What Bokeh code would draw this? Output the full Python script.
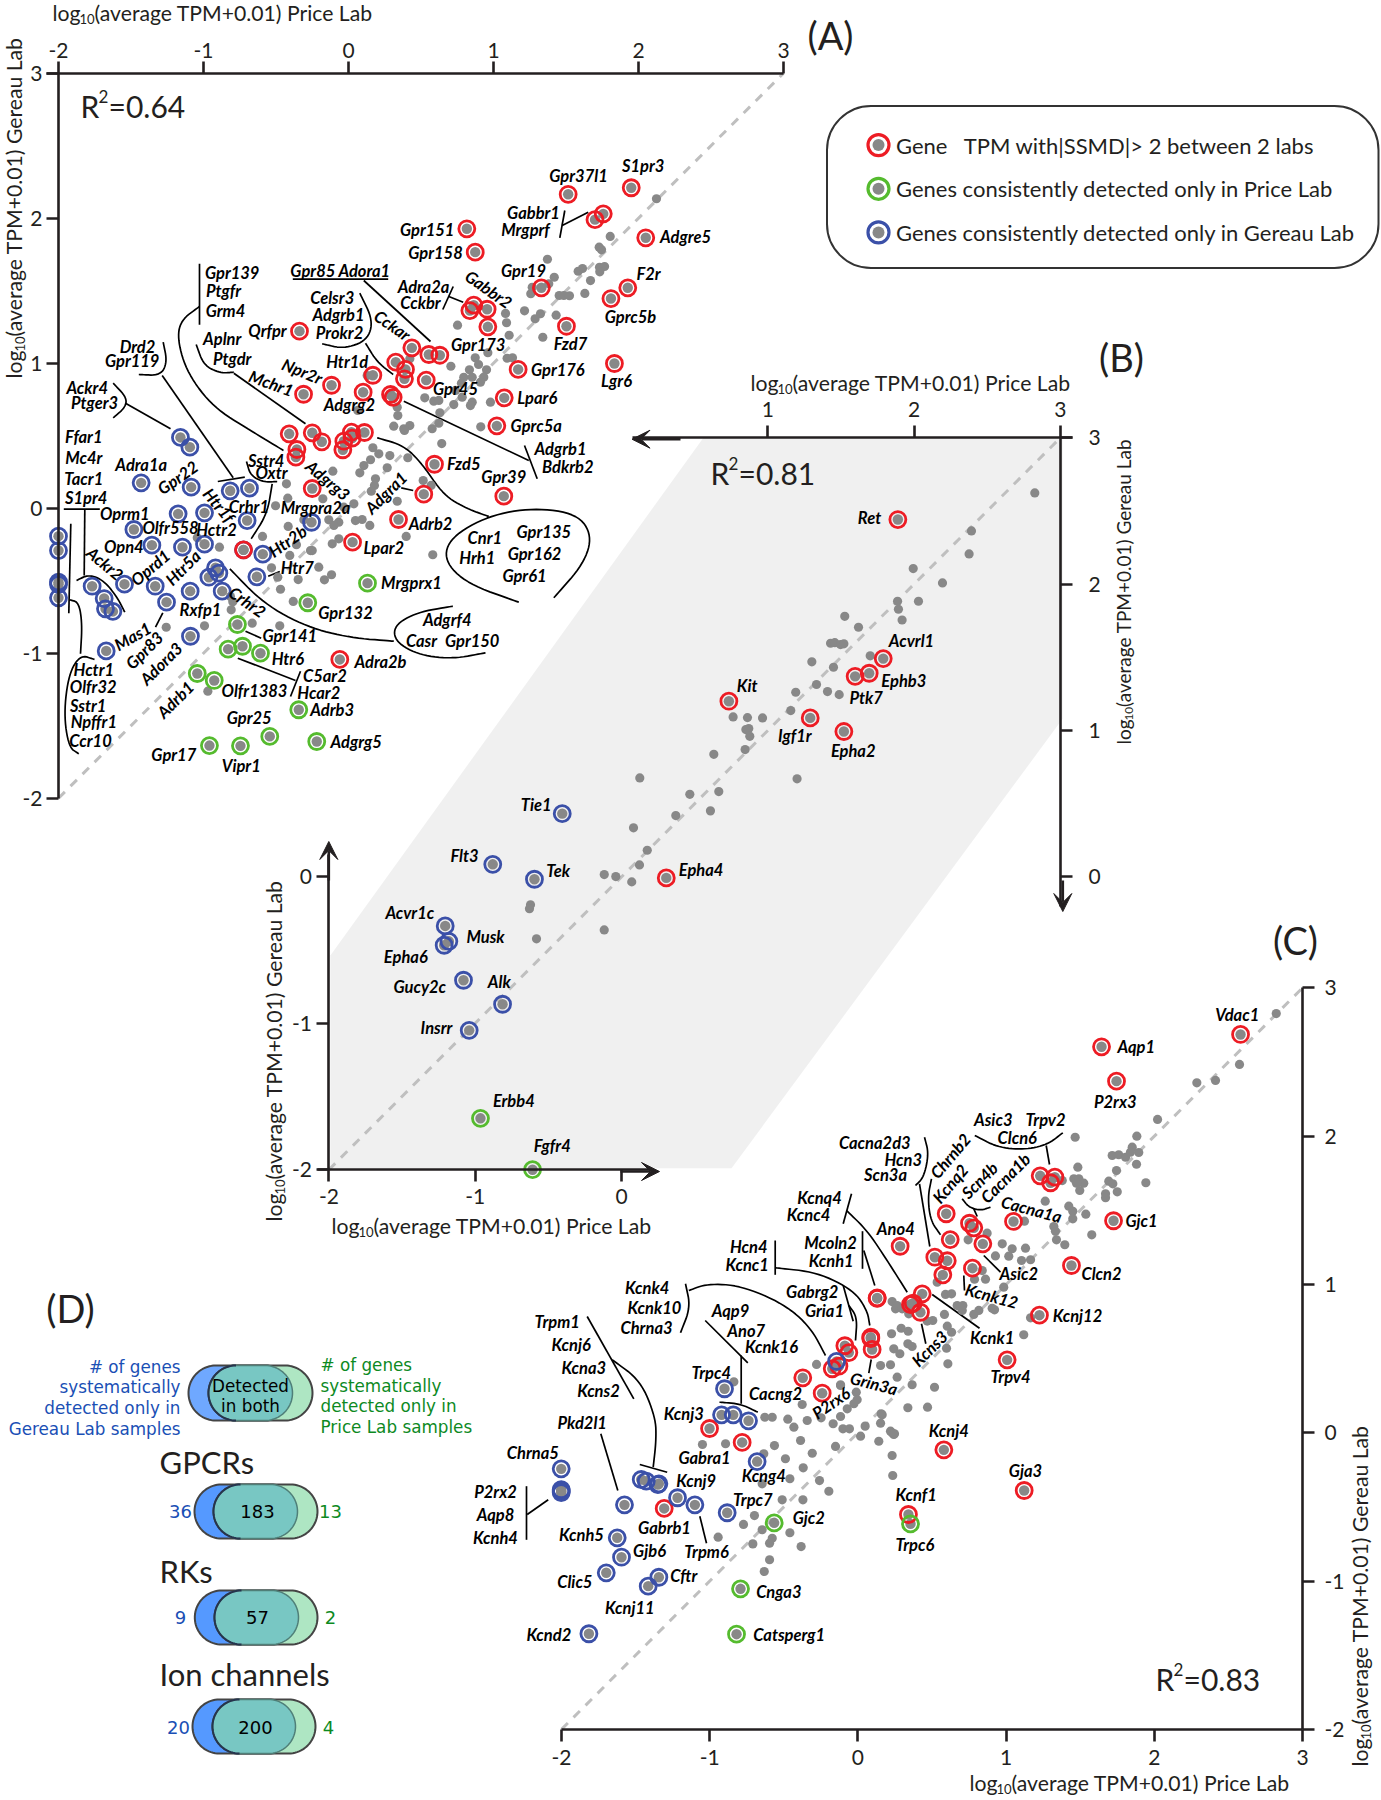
import numpy as np
from bokeh.plotting import figure
from bokeh.embed import file_html
from bokeh.resources import INLINE
from bokeh.core.properties import value
from bokeh.models import (Range1d, LinearAxis, FixedTicker, ColumnDataSource, Arrow, VeeHead)

# ---------- values (log10 TPM, Price Lab, Gereau Lab) ----------
a_gray = [(2.124,2.134),(1.805,1.874),(1.729,1.80),(1.745,1.782),(1.372,1.717),(1.614,1.653),(1.584,1.634),(1.731,1.662),
(1.766,1.667),(1.733,1.63),(1.419,1.593),(1.669,1.57),(1.267,1.524),(1.381,1.548),(1.257,1.479),(1.453,1.467),(1.485,1.467),
(1.524,1.465),(1.63,1.481),(1.214,1.361),(1.083,1.343),(1.324,1.341),(1.287,1.306),(1.432,1.331),(0.752,1.262),(1.09,1.279),
(1.108,1.193),(1.34,1.179),(0.961,1.072),(1.094,1.034),(1.131,1.037),(0.874,1.037),(0.897,0.991),(0.706,0.979),(0.834,0.954),
(0.952,0.954),(0.795,0.903),(0.853,0.903),(0.933,0.903),(0.779,0.862),(0.91,0.869),(0.738,0.812),(0.526,0.761),(0.588,0.738),
(0.623,0.743),(0.726,0.715),(0.784,0.766),(0.853,0.731),(0.841,0.708),(0.979,0.731),(0.63,0.658),(0.623,0.586),(0.577,0.548),
(0.423,0.57),(0.381,0.548),(0.912,0.561),(0.643,0.446),(0.409,0.348),(0.515,0.191),(0.57,0.157),(0.423,1.03),(0.129,0.915),
(0.336,0.697),(0.064,0.674),(0.34,0.639),(0.312,0.566),(0.386,0.536),(0.168,0.417),(0.209,0.375),(0.285,0.363),(0.152,0.334),
(0.106,0.294),(0.078,0.244),(0.267,0.279),(-0.108,0.255),(-0.428,0.168),(0.186,0.203),(0.179,0.157),(0.157,0.117),(-0.177,0.065),
(0.336,0.048),(-0.503,0.017),(-0.419,0.069),(0.037,0.03),(-0.032,0.007),(-0.308,-0.08),(-0.136,-0.08),(-0.067,-0.097),(-0.101,-0.119),
(0.048,-0.085),(0.094,-0.078),(0.147,-0.119),(0.398,-0.195),(-0.416,-0.126),(-0.593,-0.195),(-0.359,-0.252),(-0.262,-0.292),
(-0.112,-0.246),(-0.067,-0.211),(0.581,-0.321),(-0.89,-0.269),(-0.405,-0.326),(-0.531,-0.411),(-0.488,-0.476),(-0.347,-0.492),
(-0.205,-0.407),(-0.117,-0.459),(-0.166,-0.494),(-0.469,-0.559),(-0.381,-0.643),(-0.664,-0.793),(-0.474,-0.811),(-0.798,-0.646),
(-0.809,-0.701),(-0.993,-0.811),(-1.257,-0.821),(-0.97,-1.262),(-1.043,-0.204),(-0.25,-0.292),(-0.814,-0.609)]
a_red = [(1.95,2.21),(1.515,2.165),(1.757,2.03),(1.70,1.99),(2.05,1.865),(0.816,1.927),(0.874,1.766),(1.33,1.52),(1.926,1.52),
(1.81,1.446),(0.864,1.40),(0.837,1.363),(0.956,1.372),(0.961,1.251),(1.503,1.255),(1.834,0.998),(0.437,1.106),(0.554,1.06),(0.63,1.055),
(1.17,0.957),(0.536,0.883),(0.393,0.957),(0.386,0.892),(1.074,0.761),(1.023,0.568),(0.593,0.303),(1.071,0.083),(0.519,0.097),
(-0.338,1.221),(0.326,1.007),(0.168,0.917),(-0.117,0.848),(-0.31,0.786),(0.101,0.80),(0.29,0.784),(0.308,0.765),
(-0.409,0.513),(-0.25,0.52),(-0.184,0.458),(-0.356,0.405),(-0.363,0.352),(0.02,0.524),(0.11,0.522),(-0.032,0.462),(0.025,0.483),
(-0.039,0.403),(-0.25,0.136),(0.345,-0.078),(0.028,-0.234),(-0.724,-0.287),(-0.06,-1.043)]
a_blue = [(-2.0,-0.193),(-2.0,-0.292),(-2.0,-0.51),(-2.0,-0.525),(-2.0,-0.618),(-1.768,-0.538),(-1.685,-0.623),(-1.676,-0.694),
(-1.625,-0.712),(-1.545,-0.524),(-1.333,-0.538),(-1.255,-0.648),(-1.671,-0.984),(-1.09,-0.883),(-1.092,-0.572),(-1.48,-0.147),
(-1.356,-0.255),(-1.145,-0.269),(-0.993,-0.248),(-1.175,-0.039),(-0.993,-0.032),(-1.085,0.145),(-1.43,0.175),(-0.816,0.12),
(-0.683,0.138),(-0.699,-0.085),(-0.591,-0.317),(-0.632,-0.473),(-0.255,-0.097),(-1.159,0.488),(-1.094,0.421),(-0.917,-0.411),
(-0.894,-0.448),(-0.963,-0.476),(-0.871,-0.572),(-0.724,-0.287)]
a_green = [(-0.281,-0.652),(-0.766,-0.802),(-0.83,-0.972),(-0.731,-0.952),(-0.607,-1.0),(-1.043,-1.14),(-0.926,-1.188),(-0.343,-1.39),
(-0.543,-1.574),(-0.219,-1.609),(-0.959,-1.637),(-0.745,-1.639),(0.131,-0.517)]

b_gray = [(2.825,2.623),(2.392,2.363),(2.376,2.206),(1.994,2.106),(2.194,2.008),(2.03,1.883),(1.887,1.883),(1.893,1.828),(1.918,1.755),
(1.526,1.78),(1.62,1.705),(1.429,1.596),(1.458,1.6),(1.497,1.587),(1.52,1.592),(1.7,1.51),(1.301,1.469),(1.449,1.432),(1.333,1.314),
(1.191,1.261),(1.408,1.266),(1.488,1.245),(1.157,1.136),(0.763,1.093),(0.861,1.088),(0.964,1.086),(0.87,1.013),(0.85,1.006),(0.877,0.96),
(0.845,0.87),(0.631,0.837),(1.2,0.67),(0.125,0.676),(0.467,0.564),(0.665,0.583),(0.371,0.419),(0.608,0.451),(0.082,0.335),(0.176,0.182),
(0.123,0.082),(-0.118,0.016),(-0.039,0.002),(0.07,-0.034),(-0.118,-0.362),(-0.622,-0.191),(-0.629,-0.217),(-0.581,-0.423)]
b_red = [(1.889,2.441),(1.789,1.491),(1.693,1.391),(1.597,1.37),(0.734,1.2),(1.29,1.086),(1.52,0.993),(0.306,-0.007)]
b_blue = [(-0.405,0.432),(-0.88,0.086),(-0.595,-0.016),(-1.205,-0.335),(-1.18,-0.44),(-1.212,-0.467),(-1.08,-0.706),(-0.813,-0.87),(-1.041,-1.048)]
b_green = [(-0.964,-1.649),(-0.608,-2.0)]

c_gray = [(2.823,2.827),(2.575,2.484),(2.413,2.376),(2.287,2.36),(2.022,2.113),(1.882,2.0),(1.466,1.993),(1.851,1.926),(1.716,1.87),
(1.76,1.875),(1.806,1.858),(1.839,1.892),(1.895,1.89),(1.88,1.811),(1.484,1.791),(1.745,1.769),(1.457,1.713),(1.491,1.713),(1.524,1.683),
(1.475,1.683),(1.497,1.634),(1.693,1.697),(1.72,1.679),(1.943,1.686),(1.75,1.625),(1.671,1.612),(1.671,1.585),(1.379,1.701),(1.264,1.562),
(1.423,1.528),(1.45,1.494),(1.538,1.474),(1.45,1.443),(1.124,1.427),(1.322,1.391),(1.333,1.359),(1.34,1.301),(1.396,1.268),(1.578,1.335),
(0.872,1.346),(0.744,1.301),(0.974,1.274),(1.041,1.241),(1.131,1.245),(0.928,1.193),(1.018,1.191),(1.104,1.162),(1.165,1.167),(0.839,1.094),
(0.787,1.036),(0.861,1.036),(0.535,1.016),(0.984,0.982),(0.591,0.933),(0.632,0.937),(0.231,0.885),(0.265,0.858),(0.254,0.836),(0.299,0.836),
(0.343,0.802),(0.67,0.858),(0.708,0.858),(0.704,0.825),(0.816,0.825),(0.782,0.798),(0.906,0.84),(0.922,0.829),(0.584,0.798),(1.165,0.775),
(0.468,0.753),(0.505,0.757),(0.603,0.719),(0.632,0.678),(0.227,0.668),(0.292,0.705),(0.339,0.685),(0.337,0.6),(0.242,0.566),(0.283,0.533),
(0.366,0.582),(0.598,0.57),(1.119,0.661),(0.153,0.454),(0.22,0.459),(0.607,0.465),(0.265,0.375),(0.366,0.324),(-0.117,0.319),(0.517,0.307),
(-0.837,0.344),(-0.628,0.105),(-0.578,0.105),(-0.473,0.092),(-0.432,0.038),(-0.342,0.083),(-0.376,0.191),(-0.279,0.461),(-0.117,0.324),
(-0.011,0.274),(-0.005,0.223),(-0.072,0.162),(-0.027,0.196),(-0.248,0.101),(-0.117,0.11),(-0.167,0.061),(-0.101,0.027),(-0.057,0.027),
(0.049,0.045),(0.018,-0.023),(0.157,0.128),(0.22,0.011),(0.242,-0.011),(0.141,-0.057),(-0.151,-0.092),(-0.308,-0.138),(-0.387,-0.052),
(-0.563,-0.086),(-0.635,-0.142),(-0.489,-0.175),(-0.369,-0.236),(-0.196,-0.394),(-0.259,-0.322),(-0.459,-0.31),(-0.646,-0.344),
(-0.511,-0.452),(-0.371,-0.452),(-0.698,-0.558),(-0.772,-0.618),(-0.646,-0.654),(-0.459,-0.674),(-0.943,-0.704),(-1.049,-0.079),
(-0.893,-0.074),(-0.709,-0.749),(-0.578,-0.711),(-0.596,-0.744),(-0.383,-0.767),(-0.596,-0.856),(-0.632,-0.935),(0.235,-0.288),
(0.337,0.169),(0.47,0.173),(0.164,0.121),(0.153,0.065),(0.231,0.0),(0.247,-0.007),(0.231,-0.153)]
c_red = [(2.582,2.686),(1.644,2.603),(1.745,2.371),(1.23,1.733),(1.329,1.724),(1.3,1.686),(0.596,1.477),(0.753,1.413),(0.782,1.382),(1.05,1.425),
(1.725,1.43),(0.623,1.303),(0.843,1.274),(0.285,1.258),(0.519,1.184),(0.603,1.16),(0.573,1.065),(0.773,1.11),(1.441,1.128),(1.225,0.793),
(0.434,0.937),(0.355,0.865),(0.373,0.874),(0.422,0.813),(0.13,0.906),(0.13,0.91),(0.087,0.645),(0.087,0.636),(0.096,0.562),(-0.088,0.587),
(-0.061,0.541),(-0.128,0.449),(-0.173,0.432),(1.007,0.492),(-0.372,0.371),(-0.241,0.267),(-1.001,0.029),(-0.781,-0.065),(-1.307,-0.51),
(0.58,-0.115),(1.122,-0.389),(0.341,-0.551)]
c_blue = [(-0.144,0.481),(-0.9,0.297),(-0.92,0.121),(-0.841,0.121),(-0.738,0.081),(-0.68,-0.194),(-2.002,-0.243),(-2.002,-0.384),(-2.002,-0.394),
(-2.002,-0.403),(-1.462,-0.315),(-1.428,-0.326),(-1.35,-0.349),(-1.343,-0.344),(-1.575,-0.486),(-1.217,-0.438),(-1.1,-0.486),(-0.882,-0.539),
(-1.624,-0.708),(-1.595,-0.839),(-1.698,-0.944),(-1.343,-0.974),(-1.415,-1.034),(-1.815,-1.355)]
c_green = [(-0.565,-0.607),(-0.792,-1.052),(-0.819,-1.358),(0.355,-0.614)]

r2_values = ["=0.64", "=0.81", "=0.83"]
d_groups = ["GPCRs", "RKs", "Ion channels"]
d_gereau = ["36", "9", "20"]
d_both = ["183", "57", "200"]
d_price = ["13", "2", "4"]

# ---------- scale calibration of the three panels (page px of value 0, px per unit) ----------
W, H = 1381, 1800
X0, X1, Y0, Y1 = 0, W, 0, H
PANELS = {"a": (348.0, 145.0, 507.7, 145.0), "b": (621.0, 146.3, 876.4, 146.4), "c": (857.4, 148.2, 1432.3, 148.3)}

# ---------- gene labels: text, page x, page y, angle ----------
LABELS = [("Gpr139",231.7,272.7,0),("Ptgfr",223,290.7,0),("Grm4",225,310,0),("Gpr85 Adora1",340,270,0),("Celsr3",331.7,297,0),("Adgrb1",338,314,0),
("Prokr2",339,332,0),("Cckar",391.7,325,-35),("Aplnr",221.7,338,0),("Ptgdr",231.7,358,0),("Qrfpr",267,330,0),("Drd2",137,346,0),("Gpr119",131.7,360,0),
("Ackr4",86.7,387.7,0),("Ptger3",94,402,0),("Mchr1",270.7,383,-20),("Npr2r",301.7,371,-22),("Htr1d",346.7,361.7,0),("Adgrg2",349,404,0),
("Gpr151",426.7,229,0),("Gpr158",435,252.3,0),("Gpr37l1",578,175.7,0),("S1pr3",642.7,165.7,0),("Gabbr1",533,212.3,0),("Mrgprf",525,229.3,0),
("Adgre5",685,236,0),("Gpr19",523,270,0),("F2r",648,273.3,0),("Gprc5b",630,316,0),("Gabbr2",488,289,-35),("Adra2a",423,286.7,0),("Cckbr",420,302.3,0),
("Gpr173",477.7,344.3,0),("Fzd7",570,343.3,0),("Lgr6",616,380,0),("Gpr176",557.3,369,0),("Gpr45",455,388.3,0),("Lpar6",536.7,397.3,0),("Gprc5a",535.7,425.3,0),
("Adgrb1",560,448.3,0),("Bdkrb2",567.3,466.7,0),("Fzd5",463.3,463.3,0),("Gpr39",503.3,476.7,0),("Adrb2",430,523.3,0),
("Ffar1",83.3,436.7,0),("Mc4r",83.3,457.7,0),("Tacr1",83.3,478.3,0),("S1pr4",85.7,497.3,0),("Adra1a",140.7,464.3,0),("Gpr22",177.3,477.3,35),("Oprm1",124.3,513.3,0),
("Olfr558",170,527.3,0),("Opn4",123.3,546.7,0),("Oprd1",150,567.3,40),("Htr5a",182.7,567.3,45),("Ackr2",104.3,563.3,-40),("Mas1",132.3,636,30),("Gpr83",144,650,45),
("Adora3",160.7,663.3,45),("Adrb1",175,699.3,45),("Rxfp1",200,609,0),("Hctr2",216,529.3,0),("Crhr1",248.3,506,0),("Htr1f",218.3,505,-50),("Sstr4",265.7,460,0),("Oxtr",271,472.7,0),
("Crhr2",246.7,601.7,-35),("Mrgpra2a",315,507.3,0),("Htr2b",287.3,540.7,35),("Htr7",296.7,567.7,0),("Gpr141",289.3,635.7,0),("Htr6",287.3,658.3,0),("Olfr1383",254,690.7,0),
("C5ar2",324.3,675.7,0),("Hcar2",318.3,692.3,0),("Adrb3",331.7,709.3,0),("Gpr25",248.7,717.7,0),("Adgrg5",355.7,741,0),("Vipr1",240.7,765.7,0),("Gpr17",173.3,754,0),
("Hctr1",93.3,669.3,0),("Olfr32",92.7,686,0),("Sstr1",87.7,705,0),("Npffr1",93.3,721.7,0),("Ccr10",90,740,0),("Adgrg3",327.3,480,-40),("Adgra1",385.7,492.3,45),("Lpar2",383.3,547.7,0),
("Mrgprx1",411,582.3,0),("Gpr132",345,612.3,0),("Adra2b",380,661,0),("Adgrf4",446.7,619,0),("Casr",421,640,0),("Gpr150",471.7,640,0),("Cnr1",484.3,537.3,0),("Hrh1",476.7,557.7,0),
("Gpr135",543.3,531,0),("Gpr162",534,553.3,0),("Gpr61",524,575,0),
("Ret",869,517.7,0),("Acvrl1",911,640.3,0),("Ephb3",903.3,680.7,0),("Ptk7",865.7,697.7,0),("Kit",746.7,685,0),("Igf1r",794.3,735.7,0),("Epha2",852.7,750.7,0),("Tie1",535.7,804.3,0),
("Flt3",464,855.3,0),("Tek",557.7,870,0),("Epha4",700.6,869,0),("Acvr1c",409.3,912,0),("Musk",485,936.3,0),("Epha6",405.3,956,0),("Gucy2c",419.3,986,0),("Alk",498.7,981.7,0),
("Insrr",436,1027.3,0),("Erbb4",513.3,1100.7,0),("Fgfr4",551.7,1145,0),
("Vdac1",1236.7,1014.3,0),("Aqp1",1135.7,1046,0),("P2rx3",1114.7,1101,0),("Asic3",992.7,1119,0),("Trpv2",1045,1119,0),("Clcn6",1016.7,1137.7,0),("Cacna2d3",874.3,1142.3,0),("Hcn3",902.7,1159,0),
("Scn3a",885,1174.3,0),("Chrnb2",950,1155.7,50),("Kcnq2",950,1183.3,50),("Scn4b",979.3,1180,45),("Cacna1b",1005,1177.7,45),("Cacna1a",1031,1209,-15),("Gjc1",1141,1220.3,0),("Ano4",895.3,1228,0),
("Asic2",1018.3,1273,0),("Clcn2",1101,1273.3,0),("Kcnk12",991,1295.7,-15),("Kcnj12",1077,1315.3,0),("Kcnk1",991.7,1337.7,0),("Kcns3",929.3,1348.3,45),("Trpv4",1010,1376,0),("Grin3a",873.3,1383.3,-15),
("Hcn4",748.3,1246.7,0),("Kcnc1",746.7,1264.3,0),("Mcoln2",830,1242.7,0),("Kcnh1",830.7,1260.7,0),("Kcnq4",819,1197.4,0),("Kcnc4",808,1214.6,0),("Kcnk4",646.7,1287.7,0),("Kcnk10",654,1307.7,0),
("Chrna3",646,1327,0),("Aqp9",730,1310.7,0),("Ano7",745.7,1330,0),("Kcnk16",771,1346.7,0),("Gabrg2",811.7,1291.7,0),("Gria1",824,1310.7,0),("Trpm1",556.7,1321.7,0),("Kcnj6",570.7,1344.7,0),
("Kcna3",583.3,1367.3,0),("Kcns2",598,1390,0),("Trpc4",710.7,1372,0),("Cacng2",775,1393.3,0),("P2rx6",830.7,1402.7,35),("Kcnj3",683.3,1413.3,0),("Pkd2l1",581.7,1422.3,0),("Gabra1",704,1457.3,0),
("Chrna5",532.3,1452.3,0),("Kcnj9",695.7,1480.7,0),("Kcng4",763.3,1475.7,0),("Trpc7",752.3,1499,0),("Gjc2",808.3,1517.7,0),("Gabrb1",664,1527.3,0),("P2rx2",495,1491,0),("Aqp8",495,1514,0),("Kcnh4",495,1537,0),
("Kcnh5",581,1534,0),("Gjb6",649,1550,0),("Trpm6",706,1551,0),("Clic5",574.3,1581.7,0),("Cftr",683.3,1575,0),("Kcnj11",629.3,1607.7,0),("Kcnd2",548.3,1634,0),("Cnga3",778.3,1591,0),("Catsperg1",788.7,1634,0),
("Kcnj4",948.3,1430.3,0),("Gja3",1025,1470,0),("Kcnf1",915.7,1494.7,0),("Trpc6",914.3,1544,0)]

# ---------- hand-drawn leader lines and brackets on the page ----------
LEADERS = [[(199,263.3),(199,324.3)],[(199,306),(180,320),(177,340),(187,373),(213,407),(250,430),(283,450)],[(292.3,278.7),(387.7,278.7)],[(363.3,280),(430,341)],
[(359.3,292.7),(372.7,320),(366.7,340),(343.3,348.3),(321.7,343.3)],[(365,342.7),(376.7,361.7),(392.7,374)],[(195.7,344),(203.3,365),(220,372.7),(233.3,371.7)],[(233.3,372.7),(305,423.3)],
[(162.7,341.7),(166.7,361.7),(160,375),(138.3,374)],[(161.7,375),(232.7,477.3)],[(217.3,481),(244.3,476.7)],[(112.7,382.7),(126,396.7),(125,406.7),(112.7,417.3)],[(125,402.7),(170,428.3)],
[(403.3,400.7),(528.3,460)],[(524,445),(536.7,478.3)],[(564.3,210),(559.3,237.3)],[(561.7,225),(587.7,211.7)],[(452.7,286),(442.3,309)],[(448.3,296),(462.7,301.7)],
[(376.7,437.3),(403.3,445),(421.7,463.3),(443.3,495),(466.7,508.3),(488.3,516)],[(518.3,601.7),(466.7,583.3),(443.3,560),(450,536.7),(488.3,515),(533.3,507.3),(576.7,513.3),(591.7,535),(583.3,563.3),(553.3,597.3)],
[(246,461),(250,475),(263.3,481.7),(276.7,481)],[(271.7,483.3),(266.7,513.3),(250.7,538.3)],[(400.7,487.3),(412.7,490)],[(267.7,575.7),(279.3,571)],
[(229.3,568.3),(263.3,603.3),(306.7,626.7),(350,637.3),(393.3,640.7)],[(452.3,605.7),(416.7,611.7),(393.3,625),(395,641.7),(420,655),(453.3,658.3),(485,652.3)],[(245,630.7),(260.7,637.7)],
[(237.3,657.7),(295,680)],[(300,670.7),(290,696)],[(63.3,508.7),(99.3,508.7)],[(84.3,508.7),(83.7,575)],[(76,580),(88.3,574),(103.3,580),(116.7,596.7),(124.3,611.7)],[(70.3,523.3),(68.3,612.7)],
[(69,599.3),(78.3,601.7),(81.7,623.3),(80,653.3)],[(94,659),(80,654.3),(68.3,673.3),(63.3,713.3),(68.3,746.7),(78.3,753.3)],[(162.3,612.3),(155,626.7)],
[(924,1136.7),(928.3,1153.3),(923.3,1176.7),(915,1185)],[(919,1183.3),(929.3,1246)],[(931,1178.3),(927.3,1196.7),(930,1220),(940,1234.3)],[(974.3,1135),(996.7,1146.7),(1023.3,1149.3),(1046.7,1144.3),(1062.3,1132.3)],
[(1045.7,1145),(1049,1164)],[(961.7,1198.3),(968.3,1206.7),(980,1210),(990,1206.7)],[(973.3,1208.3),(976.7,1216)],[(851,1193.3),(842.7,1223.3)],[(846,1210),(866.7,1230),(886.7,1260),(906.7,1291.7)],
[(862,1230.7),(862,1268.3)],[(863.3,1250),(874.3,1285)],[(774.7,1240),(774.7,1274.3)],[(774.7,1267.3),(816.7,1271.7),(853.3,1290),(866.7,1310),(869.3,1325)],[(842.7,1285),(852.7,1320.7)],
[(848.3,1305),(856.7,1316.7),(855,1340)],[(685,1283.3),(690,1306.7),(680,1332.3)],[(688.3,1290),(706.7,1283.3),(740,1285),(783.3,1303.3),(810,1326.7),(825,1355)],[(704.7,1320),(747.3,1362.3)],
[(740.7,1355),(740.7,1403.3)],[(719,1401.7),(740,1403.3),(757.3,1411.7)],[(586.7,1316),(633.3,1398.3)],[(611.7,1359.3),(640,1380),(655,1416.7),(655.7,1440),(652.7,1466.7)],[(639.3,1464),(666.7,1471.7)],
[(600.3,1433.3),(617.3,1490)],[(526,1485.7),(526,1539.3)],[(526.7,1514),(547.7,1499.3)],[(699.3,1515.7),(706,1542.7)],[(870.7,1359),(868.3,1372.7)],[(921,1323.3),(925.3,1343.3)],
[(931.7,1294),(979,1327.7)],[(983.3,1255),(1000,1271.7)],[(963.3,1275),(964,1290)]]

INK, RED, GREEN, BLUE, DOT = "#231f20", "#ed1c24", "#55bb2e", "#3b50a8", "#888888"
SANS, VERD = "Lato", "DejaVu Sans"

p = figure(width=W, height=H, x_range=Range1d(X0, X1), y_range=Range1d(Y1, Y0), output_backend="svg",
           toolbar_location=None, x_axis_location=None, y_axis_location=None, min_border=0, outline_line_color=None)
p.grid.visible = False
for k, (x0, sx, y0, sy) in PANELS.items():
    p.extra_x_ranges[k + "x"] = Range1d((X0 - x0) / sx, (X1 - x0) / sx)
    p.extra_y_ranges[k + "y"] = Range1d((y0 - Y1) / sy, (y0 - Y0) / sy)

def xy(pairs):
    return [q[0] for q in pairs], [q[1] for q in pairs]

def kw(k):
    return dict(x_range_name=k + "x", y_range_name=k + "y")

def txt(x, y, s, size, font=SANS, color=INK, align="left", angle=0.0, style="normal", base="middle"):
    p.text([x], [y], text=[s], text_font=value(font), text_font_size=f"{size}px", text_color=color, text_align=align,
           text_baseline=base, angle=angle, text_font_style=style)

# grey band of panel B
band_x = [0.56, 3.015, 3.015, 0.752, -1.99, -1.99]
band_y = [3.0, 3.0, 1.08, -1.99, -1.99, -0.537]
p.patch(band_x, band_y, fill_color="#f0f0f0", line_color=None, **kw("b"))

# identity lines
for k in "abc":
    p.line([-2, 3], [-2, 3], line_color="#bfbfbf", line_width=3, line_dash="9 8", **kw(k))

# leader lines, smoothed
def smooth(pts, n=3):
    pts = np.array(pts, float)
    if len(pts) < 3:
        return pts
    for _ in range(n):
        q = [pts[0]]
        for a, b in zip(pts[:-1], pts[1:]):
            q += [0.75 * a + 0.25 * b, 0.25 * a + 0.75 * b]
        q.append(pts[-1])
        pts = np.array(q)
    return pts

ls = [smooth(l) for l in LEADERS]
p.multi_line([list(l[:, 0]) for l in ls], [list(l[:, 1]) for l in ls], line_color="black", line_width=1.7)

# points
def points(k, gray, rings):
    gx, gy = xy(gray)
    p.scatter(gx, gy, size=9.2, fill_color=DOT, line_color=None, **kw(k))
    for data, color in rings:
        x, y = xy(data)
        p.scatter(x, y, size=10.4, fill_color=DOT, line_color=None, **kw(k))
    for data, color in rings:
        x, y = xy(data)
        p.scatter(x, y, size=16, fill_color=None, line_color=color, line_width=2.8, **kw(k))

points("a", a_gray, [(a_blue, BLUE), (a_green, GREEN), (a_red, RED)])
points("b", b_gray, [(b_red, RED), (b_blue, BLUE), (b_green, GREEN)])
points("c", c_gray, [(c_red, RED), (c_green, GREEN), (c_blue, BLUE)])

# gene labels
src = ColumnDataSource(dict(x=[l[1] for l in LABELS], y=[l[2] for l in LABELS], t=[l[0] for l in LABELS], a=[l[3] for l in LABELS]))
p.text("x", "y", text="t", angle="a", angle_units="deg", source=src, text_font=value(SANS), text_font_style="bold italic",
       text_font_size="16.5px", text_color="black", text_align="center", text_baseline="middle")

# axes
def axis(k, side, at, ticks, bounds, standoff, size=21):
    ax = LinearAxis(x_range_name=k + "x", y_range_name=k + "y", fixed_location=at, ticker=FixedTicker(ticks=ticks), bounds=bounds)
    ax.axis_line_color = INK
    ax.axis_line_width = 2.6
    ax.major_tick_line_color = INK
    ax.major_tick_line_width = 2.6
    ax.major_tick_in = 0
    ax.major_tick_out = 12
    ax.minor_tick_line_color = None
    ax.major_label_text_font = SANS
    ax.major_label_text_font_size = f"{size}px"
    ax.major_label_text_color = INK
    ax.major_label_standoff = standoff
    ax.major_label_overrides = {-2: "-2", -1: "-1"}
    p.add_layout(ax, side)

ax_ticks = [-2, -1, 0, 1, 2, 3]
axis("a", "above", 3, ax_ticks, (-2.08, 3), 3)
axis("a", "left", -2, ax_ticks, (-2, 3.0), 4)
axis("b", "above", 3, [1, 2, 3], (0.073, 3.08), 9)
axis("b", "right", 3, [0, 1, 2, 3], (-0.2, 3.0), 16)
axis("b", "below", -2, [-2, -1, 0], (-2.08, 0.2), 7)
axis("b", "left", -2, [-2, -1, 0], (-2.0, 0.15), 5)
axis("c", "below", -2, ax_ticks, (-2, 3), 9)
axis("c", "right", 3, ax_ticks, (-2, 3.0), 10)

# arrow heads
for xs, ys, xe, ye in [(680, 438.7, 631.5, 438.7), (1062.3, 880, 1062.3, 911), (620, 1171, 659, 1171), (328.3, 880, 328.3, 841)]:
    p.add_layout(Arrow(end=VeeHead(size=18, fill_color=INK, line_color=INK, line_width=1), x_start=xs, y_start=ys, x_end=xe, y_end=ye,
                       line_color=INK, line_width=2.6))

# axis titles with a subscript
def htitle(x, y, rest, f=21.2):
    r = f / 21.2
    txt(x + 2, y, "log", f)
    txt(x + 29 * r, y + 6 * r, "10", f * 0.62)
    txt(x + 44 * r, y, rest, f)

def vtitle(x, y, rest, f=21.2):
    r = f / 21.2
    a = np.pi / 2
    txt(x, y - 2, "log", f, angle=a)
    txt(x + 6 * r, y - 29 * r, "10", f * 0.62, angle=a)
    txt(x, y - 44 * r, rest, f, angle=a)

PRICE, GEREAU = "(average TPM+0.01) Price Lab", "(average TPM+0.01) Gereau Lab"
htitle(50, 12, PRICE)
vtitle(13, 380, GEREAU)
htitle(748, 382, PRICE)
vtitle(1123, 746, GEREAU, 19.0)
htitle(329, 1225, PRICE)
vtitle(273, 1223, GEREAU)
htitle(967, 1782, PRICE)
vtitle(1359, 1768, GEREAU)

# R squared
def r2(x, y, s):
    txt(x, y, "R", 30)
    txt(x + 18, y - 9, "2", 17)
    txt(x + 28, y, s, 30)

r2(80, 105, r2_values[0])
r2(710, 472, r2_values[1])
r2(1155, 1678, r2_values[2])

# panel letters
for s, x, y in [("(A)", 830, 34), ("(B)", 1121, 356), ("(C)", 1295, 939), ("(D)", 70, 1307)]:
    txt(x, y, s, 38, align="center")

# legend
p.quad(left=[826.5], right=[1378], top=[105.5], bottom=[267.5], border_radius=44, fill_color=None, line_color="#333333", line_width=2)
for (c, y, s) in [(RED, 144.6, "Gene\u00a0\u00a0\u00a0TPM with|SSMD|> 2 between 2 labs"), (GREEN, 188.3, "Genes consistently detected only in Price Lab"),
                  (BLUE, 231.9, "Genes consistently detected only in Gereau Lab")]:
    p.scatter([878], [y], size=12, fill_color=DOT, line_color=None)
    p.scatter([878], [y], size=21, fill_color=None, line_color=c, line_width=3.2)
    txt(895.5, y, s, 22)

# panel D capsules
def capsule(l, r, t, b):
    rad = (b - t) / 2
    th = np.linspace(-np.pi / 2, np.pi / 2, 40)
    cy = (t + b) / 2
    xs = np.r_[r - rad + rad * np.cos(th), l + rad - rad * np.cos(th)]
    ys = np.r_[cy + rad * np.sin(th), cy - rad * np.sin(th)]
    return xs, ys

def venn(l, r, tl, tr, t, b, blue):
    xs, ys = capsule(l, tr, t, b)
    p.patch(xs, ys, fill_color=blue, line_color="#444444", line_width=2)
    xs, ys = capsule(tl, r, t, b)
    p.patch(xs, ys, fill_color="#aee6c3", line_color="#444444", line_width=2)
    xs, ys = capsule(tl, tr, t, b)
    rad = (b - t) / 2
    p.patch(xs, ys, fill_color="#78c7c3", line_color="#4f7f78", line_width=1.5)
    th = np.linspace(np.pi / 2, 3 * np.pi / 2, 40)
    p.line(tl + rad + rad * np.cos(th), (t + b) / 2 + rad * np.sin(th), line_color="#26344d", line_width=2)

venn(188, 312, 208, 292, 1365, 1420, "#6fa8ff")
venn(194, 317, 213, 297, 1484, 1538, "#5599ff")
venn(194.3, 317, 214, 298, 1590, 1644, "#5599ff")
venn(192, 315, 212, 295, 1699, 1753, "#5599ff")

DB, DG = "#1a4fb5", "#0d8a1f"
for s, y in zip(["# of genes", "systematically", "detected only in", "Gereau Lab samples"], [1366, 1386, 1407, 1428]):
    txt(180, y, s, 16.8, font=VERD, color=DB, align="right")
for s, y in zip(["# of genes", "systematically", "detected only in", "Price Lab samples"], [1364, 1385, 1405.5, 1426]):
    txt(320, y, s, 16.8, font=VERD, color=DG)
txt(250, 1385, "Detected", 16.8, font=VERD, color="black", align="center")
txt(250, 1405.5, "in both", 16.8, font=VERD, color="black", align="center")

for name, y in zip(d_groups, [1461, 1570, 1673]):
    txt(159, y, name, 31)
for g, b, q, y, xg, xb, xp in zip(d_gereau, d_both, d_price, [1511, 1617, 1727], [180, 180, 178], [257, 257, 255], [330, 330, 328]):
    txt(xg, y, g, 18, font=VERD, color=DB, align="center")
    txt(xb, y, b, 18, font=VERD, color="black", align="center")
    txt(xp, y, q, 18, font=VERD, color=DG, align="center")

open("out.html", "w").write(file_html(p, INLINE))
